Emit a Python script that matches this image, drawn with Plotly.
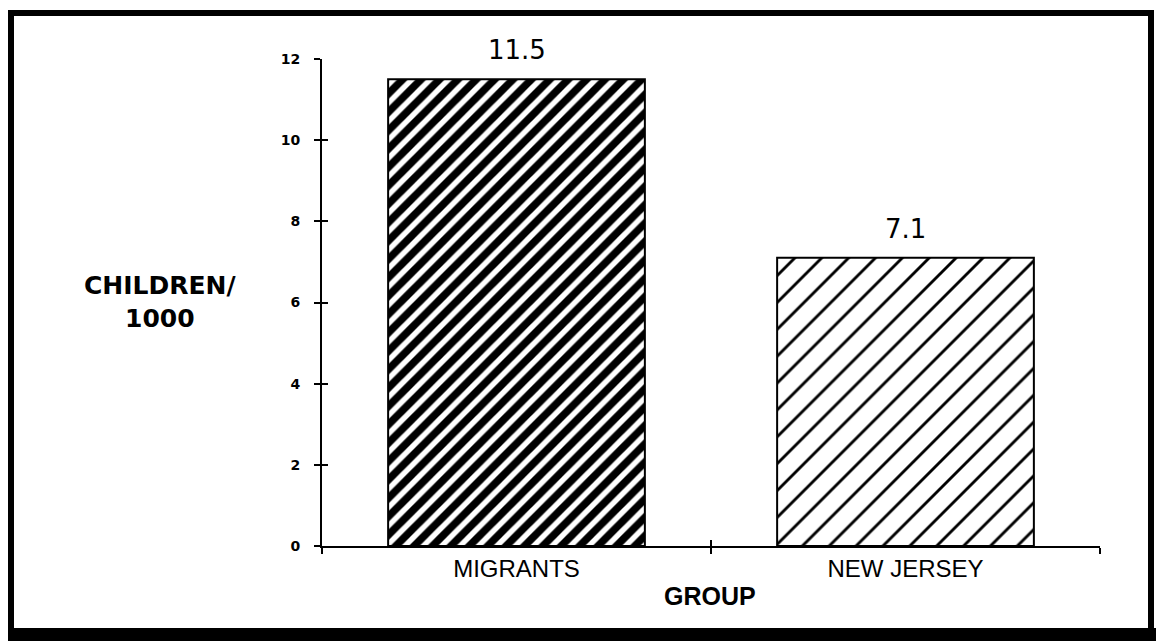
import plotly.graph_objects as go

# Values
groups = ["MIGRANTS", "NEW JERSEY"]
rates = [11.5, 7.1]
rate_labels = ["11.5", "7.1"]
y_ticks = [0, 2, 4, 6, 8, 10, 12]

W, H = 1156, 641
L, R, T, B = 322, 56, 59, 95
plot_w = W - L - R
plot_h = H - T - B


def px_x(px):
    return (px - L) / plot_w


def px_y(py):
    return (H - B - py) / plot_h


SANS = "Liberation Sans, Arial, Helvetica, sans-serif"
WIDE = "DejaVu Sans, Verdana, sans-serif"

fig = go.Figure()

# dense bar: black with white stripes; light bar: white with thin black stripes
patterns = [
    dict(shape="/", bgcolor="black", fgcolor="white", fgopacity=1, size=13, solidity=0.42),
    dict(shape="/", bgcolor="white", fgcolor="black", fgopacity=1, size=19, solidity=0.15),
]
for g, v, pat in zip(groups, rates, patterns):
    fig.add_trace(go.Bar(
        x=[g], y=[v],
        width=0.66,
        marker=dict(color=pat["bgcolor"], pattern=pat,
                    line=dict(color="black", width=2)),
        showlegend=False,
        hoverinfo="x+y",
    ))

# empty trace so the overlay axes (inward half of the crossing ticks) render
fig.add_trace(go.Scatter(
    x=[None], y=[None], xaxis="x2", yaxis="y2",
    mode="markers", showlegend=False, hoverinfo="skip",
))

# value labels above the bars
for g, v, lab in zip(groups, rates, rate_labels):
    fig.add_annotation(
        x=g, y=v, xref="x", yref="y", text=lab, showarrow=False,
        xanchor="center", yanchor="bottom", yshift=12,
        font=dict(family=WIDE, size=26, color="black"),
    )

fig.update_layout(
    width=W, height=H,
    margin=dict(l=L, r=R, t=T, b=B, pad=0),
    paper_bgcolor="white", plot_bgcolor="white",
    barmode="overlay",
    font=dict(family=SANS, color="black"),
    xaxis=dict(
        type="category", categoryorder="array", categoryarray=groups,
        range=[-0.5, 1.5],
        showline=True, linecolor="black", linewidth=2,
        ticks="outside", tickson="boundaries", ticklen=6, tickwidth=2, tickcolor="black",
        tickfont=dict(family=SANS, size=24, color="black"),
        ticklabelstandoff=0,
        showgrid=False, zeroline=False,
    ),
    yaxis=dict(
        range=[0, 12], tickvals=y_ticks,
        showline=True, linecolor="black", linewidth=2,
        ticks="outside", ticklen=6, tickwidth=2, tickcolor="black",
        tickfont=dict(family=WIDE, size=14, color="black", weight="bold"),
        ticklabelstandoff=11,
        showgrid=False, zeroline=False,
    ),
    xaxis2=dict(overlaying="x", anchor="y2", side="bottom",
                range=[-0.5, 1.5], tickvals=[0.5, 1.5],
                ticks="inside", ticklen=6, tickwidth=2, tickcolor="black",
                showticklabels=False, showgrid=False, zeroline=False,
                showline=False, fixedrange=True),
    yaxis2=dict(overlaying="y", anchor="x2", side="left",
                range=[0, 12], tickvals=y_ticks,
                ticks="inside", ticklen=6, tickwidth=2, tickcolor="black",
                showticklabels=False, showgrid=False, zeroline=False,
                showline=False, fixedrange=True),
)

# axis titles
fig.add_annotation(
    x=px_x(160), y=px_y(302), xref="paper", yref="paper",
    text="CHILDREN/<br>1000", showarrow=False, align="center",
    xanchor="center", yanchor="middle",
    font=dict(family=WIDE, size=25, color="black", weight="bold"),
)
fig.add_annotation(
    x=px_x(710), y=px_y(596), xref="paper", yref="paper",
    text="GROUP", showarrow=False, xanchor="center", yanchor="middle",
    font=dict(family=SANS, size=25, color="black", weight="bold"),
)

# heavy outer frame
fig.add_shape(
    type="rect", xref="paper", yref="paper",
    x0=px_x(11), x1=px_x(1151), y0=px_y(633), y1=px_y(13),
    line=dict(color="black", width=6), fillcolor="rgba(0,0,0,0)",
)
fig.add_shape(
    type="rect", xref="paper", yref="paper",
    x0=px_x(8), x1=px_x(1156), y0=px_y(641), y1=px_y(628),
    line=dict(width=0), fillcolor="black",
)

fig.write_html("out.html")
